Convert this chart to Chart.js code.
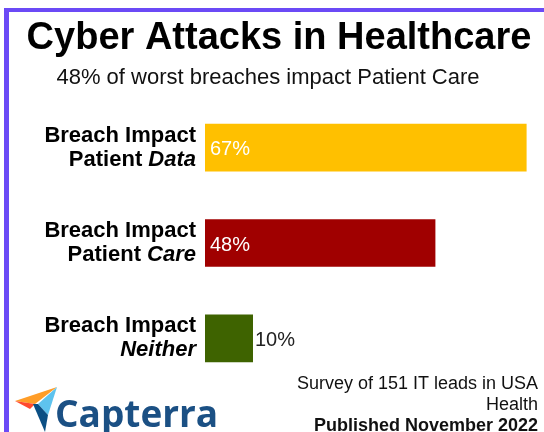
<!DOCTYPE html>
<html>
<head>
<meta charset="utf-8">
<script src="https://cdn.jsdelivr.net/npm/chart.js@4"></script>
<style>
    body { margin: 0; background: #fff; }
    #wrap { width: 544px; height: 432px; position: relative; }
</style>
</head>
<body>
<div id="wrap"><canvas id="cyberChart"></canvas></div>
<script>
// Chart data
var labelFirst = ['Breach Impact', 'Breach Impact', 'Breach Impact'];
var labelPlain = ['Patient ', 'Patient ', ''];
var labelItalic = ['Data', 'Care', 'Neither'];
var values = [67, 48, 10];
var barColors = ['#FFC000', '#A00000', '#3E6300'];

var titleText = 'Cyber Attacks in Healthcare';
var subtitleText = '48% of worst breaches impact Patient Care';
var footerLines = ['Survey of 151 IT leads in USA', 'Health', 'Published November 2022'];

var FONT = '"Liberation Sans", Arial, sans-serif';

// Draws frame, titles, category labels, value labels, footer and logo
var decorPlugin = {
    id: 'decor',
    beforeDraw: function (chart) {
        var ctx = chart.ctx;
        ctx.save();
        ctx.fillStyle = '#ffffff';
        ctx.fillRect(0, 0, chart.width, chart.height);
        // purple frame (top + left)
        ctx.fillStyle = '#6B4AF6';
        ctx.fillRect(4, 8, 540, 4);
        ctx.fillRect(4, 8, 5, 424);
        ctx.restore();
    },
    afterDraw: function (chart) {
        var ctx = chart.ctx;
        var yScale = chart.scales.y;
        var meta = chart.getDatasetMeta(0);
        ctx.save();

        // title + subtitle
        ctx.fillStyle = '#000';
        ctx.textAlign = 'center';
        ctx.textBaseline = 'alphabetic';
        ctx.font = 'bold 38px ' + FONT;
        ctx.fillText(titleText, 279, 49);
        ctx.fillStyle = '#111';
        ctx.font = '22px ' + FONT;
        ctx.fillText(subtitleText, 268, 84);

        // category labels
        labelFirst.forEach(function (txt, i) {
            var c = yScale.getPixelForValue(i);
            var right = 196;
            ctx.fillStyle = '#000';
            ctx.textAlign = 'right';
            ctx.font = 'bold 22px ' + FONT;
            ctx.fillText(txt, right, c - 6);
            ctx.font = 'bold italic 22px ' + FONT;
            var wItal = ctx.measureText(labelItalic[i]).width;
            ctx.fillText(labelItalic[i], right, c + 18);
            if (labelPlain[i]) {
                ctx.font = 'bold 22px ' + FONT;
                ctx.fillText(labelPlain[i], right - wItal, c + 18);
            }
        });

        // value labels
        ctx.font = '20px ' + FONT;
        ctx.textAlign = 'left';
        ctx.textBaseline = 'middle';
        meta.data.forEach(function (bar, i) {
            var txt = values[i] + '%';
            var w = ctx.measureText(txt).width;
            var inside = (bar.x - bar.base) > w + 10;
            ctx.fillStyle = inside ? '#ffffff' : '#222';
            ctx.fillText(txt, inside ? bar.base + 5 : bar.x + 2, bar.y + 2);
        });

        // footer
        ctx.textAlign = 'right';
        ctx.textBaseline = 'alphabetic';
        ctx.fillStyle = '#111';
        ctx.font = '18px ' + FONT;
        ctx.fillText(footerLines[0], 538, 389);
        ctx.fillText(footerLines[1], 538, 410);
        ctx.font = 'bold 18px ' + FONT;
        ctx.fillText(footerLines[2], 538, 431);

        // Capterra logo
        ctx.fillStyle = '#FF9D28';
        ctx.beginPath();
        ctx.moveTo(15, 401); ctx.lineTo(57, 387); ctx.lineTo(35, 404); ctx.closePath();
        ctx.fill();
        ctx.fillStyle = '#FF4A2E';
        ctx.beginPath();
        ctx.moveTo(15, 401); ctx.lineTo(35, 404); ctx.lineTo(30, 409); ctx.closePath();
        ctx.fill();
        ctx.fillStyle = '#5EC3EE';
        ctx.beginPath();
        ctx.moveTo(57, 387); ctx.lineTo(38, 404); ctx.lineTo(48, 415); ctx.closePath();
        ctx.fill();
        ctx.fillStyle = '#0B4F84';
        ctx.beginPath();
        ctx.moveTo(33, 404); ctx.lineTo(38, 404); ctx.lineTo(48, 415); ctx.lineTo(45, 432); ctx.closePath();
        ctx.fill();

        ctx.textAlign = 'left';
        ctx.fillStyle = '#1B5084';
        ctx.font = 'bold 37px "Open Sans", sans-serif';
        ctx.fillText('Capterra', 55, 427);

        ctx.restore();
    }
};

var ctx = document.getElementById('cyberChart').getContext('2d');
var cyberChart = new Chart(ctx, {
    type: 'bar',
    data: {
        labels: labelItalic,
        datasets: [{
            data: values,
            backgroundColor: barColors,
            borderWidth: 0,
            barPercentage: 0.5,
            categoryPercentage: 1.0
        }]
    },
    options: {
        indexAxis: 'y',
        responsive: true,
        maintainAspectRatio: false,
        animation: false,
        layout: {
            padding: { left: 205, right: 3, top: 100, bottom: 46 }
        },
        scales: {
            x: { display: false, min: 0, max: 70 },
            y: { display: false }
        },
        plugins: {
            legend: { display: false },
            tooltip: { enabled: false }
        }
    },
    plugins: [decorPlugin]
});
</script>
</body>
</html>
